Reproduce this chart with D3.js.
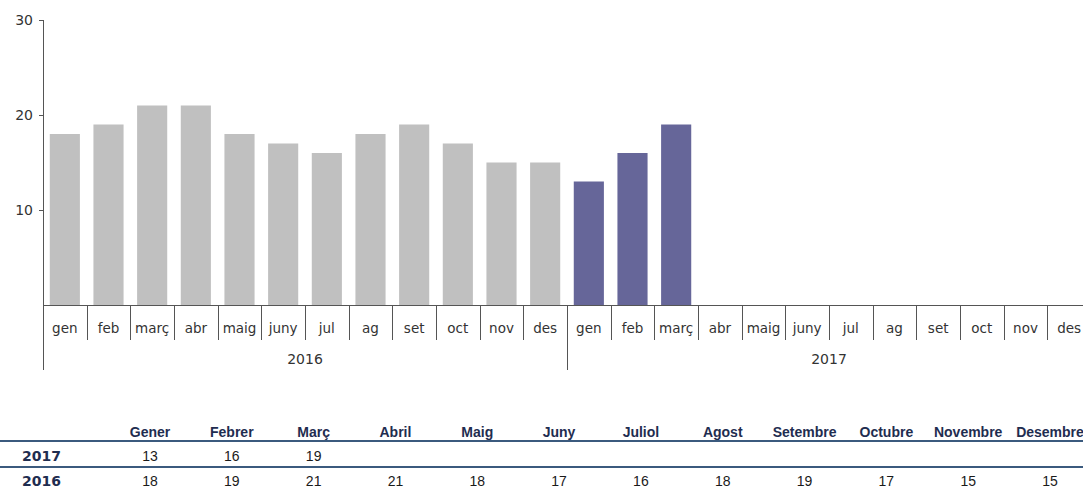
<!DOCTYPE html>
<html>
<head>
<meta charset="utf-8">
<script src="https://cdn.jsdelivr.net/npm/d3@7"></script>
<style>
  body { margin: 0; background: #fff; }
  svg { display: block; }
</style>
</head>
<body>
<svg id="chart" width="1083" height="488"></svg>
<script>
// dades
const years = ['2016', '2017'];
const monthShort = ['gen', 'feb', 'març', 'abr', 'maig', 'juny', 'jul', 'ag', 'set', 'oct', 'nov', 'des'];
const monthLong = ['Gener', 'Febrer', 'Març', 'Abril', 'Maig', 'Juny', 'Juliol', 'Agost', 'Setembre', 'Octubre', 'Novembre', 'Desembre'];
const values2016 = [18, 19, 21, 21, 18, 17, 16, 18, 19, 17, 15, 15];
const values2017 = [13, 16, 19];
const yTicks = [10, 20, 30];

const svg = d3.select('#chart');

const plotLeft = 43, plotRight = 1091;
const plotTop = 20, base = 305;

// une categorie per mes i any
const cats = [];
years.forEach(y => monthShort.forEach(m => cats.push(y + '-' + m)));

const bars = [];
values2016.forEach((v, i) => bars.push({key: '2016-' + monthShort[i], value: v, year: '2016'}));
values2017.forEach((v, i) => bars.push({key: '2017-' + monthShort[i], value: v, year: '2017'}));

const x = d3.scaleBand().domain(cats).range([plotLeft, plotRight]).paddingInner(0.31).paddingOuter(0.155);
const y = d3.scaleLinear().domain([0, 30]).range([base, plotTop]);

const axisFont = '"DejaVu Sans", Verdana, sans-serif';

// barres
svg.append('g').selectAll('rect')
  .data(bars)
  .join('rect')
  .attr('x', d => x(d.key))
  .attr('width', x.bandwidth())
  .attr('y', d => y(d.value))
  .attr('height', d => base - y(d.value))
  .attr('fill', d => d.year === '2016' ? '#c0c0c0' : '#666699');

// eix Y
const yAxis = svg.append('g')
  .attr('transform', `translate(${plotLeft},0)`)
  .call(d3.axisLeft(y).tickValues(yTicks).tickSize(4).tickPadding(6).tickSizeOuter(0));
yAxis.select('.domain').remove();
yAxis.selectAll('line').attr('stroke', '#555');
yAxis.selectAll('text').attr('font-family', axisFont).attr('font-size', 14).attr('fill', '#333');

svg.append('line')
  .attr('x1', plotLeft + 0.5).attr('x2', plotLeft + 0.5)
  .attr('y1', plotTop).attr('y2', 370)
  .attr('stroke', '#555');

// linia base
svg.append('line')
  .attr('x1', plotLeft).attr('x2', 1083)
  .attr('y1', base + 0.5).attr('y2', base + 0.5)
  .attr('stroke', '#555');

// separadors de mesos
const step = x.step();
const seps = svg.append('g');
cats.forEach((c, i) => {
  if (i === 0) return;
  const sx = Math.round(plotLeft + i * step) + 0.5;
  const isYear = i % 12 === 0;
  seps.append('line')
    .attr('x1', sx).attr('x2', sx)
    .attr('y1', base).attr('y2', isYear ? 370 : 340)
    .attr('stroke', '#555');
});

// etiquetes de mesos
svg.append('g').selectAll('text')
  .data(cats)
  .join('text')
  .attr('x', d => x(d) + x.bandwidth() / 2)
  .attr('y', 333)
  .attr('text-anchor', 'middle')
  .attr('font-family', axisFont)
  .attr('font-size', 13.5)
  .attr('fill', '#333')
  .text(d => d.split('-')[1]);

// etiquetes d'any
svg.append('g').selectAll('text')
  .data(years)
  .join('text')
  .attr('x', (d, i) => plotLeft + (i * 12 + 6) * step)
  .attr('y', 364)
  .attr('text-anchor', 'middle')
  .attr('font-family', axisFont)
  .attr('font-size', 14)
  .attr('fill', '#333')
  .text(d => d);

// taula
const col = d3.scalePoint().domain(monthLong).range([150, 1050]);
const narrow = '"Liberation Sans Narrow", "Arial Narrow", "Liberation Sans", sans-serif';
const tbl = svg.append('g');

tbl.selectAll('text.head')
  .data(monthLong)
  .join('text')
  .attr('class', 'head')
  .attr('x', d => col(d))
  .attr('y', 437)
  .attr('text-anchor', 'middle')
  .attr('font-family', narrow)
  .attr('font-weight', 'bold')
  .attr('font-size', 14)
  .attr('fill', '#1f2d50')
  .text(d => d);

[441, 467].forEach(ly => {
  tbl.append('line')
    .attr('x1', 0).attr('x2', 1083)
    .attr('y1', ly).attr('y2', ly)
    .attr('stroke', '#3b5a7e')
    .attr('stroke-width', 2);
});

const rows = [
  {label: '2017', vals: values2017, y: 461},
  {label: '2016', vals: values2016, y: 486}
];
rows.forEach(r => {
  tbl.append('text')
    .attr('x', 22)
    .attr('y', r.y)
    .attr('font-family', axisFont)
    .attr('font-weight', 'bold')
    .attr('font-size', 14)
    .attr('fill', '#1f2d50')
    .text(r.label);
  tbl.append('g').selectAll('text')
    .data(r.vals)
    .join('text')
    .attr('x', (d, i) => col(monthLong[i]))
    .attr('y', r.y)
    .attr('text-anchor', 'middle')
    .attr('font-family', narrow)
    .attr('font-size', 14)
    .attr('fill', '#1a1a1a')
    .text(d => d);
});
</script>
</body>
</html>
